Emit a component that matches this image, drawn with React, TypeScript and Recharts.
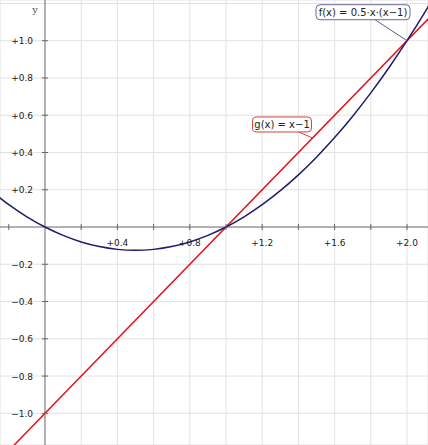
import { CartesianGrid, ComposedChart, Line, ReferenceDot, ReferenceLine, XAxis, YAxis } from "recharts"

// f(x)
const fX = [-0.3, -0.2, -0.1, 0, 0.1, 0.2, 0.3, 0.4, 0.5, 0.6, 0.7, 0.8, 0.9, 1.0, 1.1, 1.2, 1.3, 1.4, 1.5, 1.6, 1.7, 1.8, 1.9, 2.0, 2.1, 2.2]
const fY = [0.195, 0.12, 0.055, 0, -0.045, -0.08, -0.105, -0.12, -0.125, -0.12, -0.105, -0.08, -0.045, 0, 0.055, 0.12, 0.195, 0.28, 0.375, 0.48, 0.595, 0.72, 0.855, 1.0, 1.155, 1.32]

// g(x) straight line
const gX = [-0.3, 2.2]
const gY = [-1.3, 1.2]

const gridX = [-0.2, 0.2, 0.4, 0.6, 0.8, 1.0, 1.2, 1.4, 1.6, 1.8, 2.0]
const gridY = [-1.0, -0.8, -0.6, -0.4, -0.2, 0.2, 0.4, 0.6, 0.8, 1.0, 1.2]

const xLabelTicks = [0.4, 0.8, 1.2, 1.6, 2.0]
const xLabels = ["+0.4", "+0.8", "+1.2", "+1.6", "+2.0"]
const yLabelTicks = [1.0, 0.8, 0.6, 0.4, 0.2, -0.2, -0.4, -0.6, -0.8, -1.0]
const yLabels = ["+1.0", "+0.8", "+0.6", "+0.4", "+0.2", "\u22120.2", "\u22120.4", "\u22120.6", "\u22120.8", "\u22121.0"]

const fData = fX.map((x, i) => ({ x, y: fY[i] }))
const gData = gX.map((x, i) => ({ x, y: gY[i] }))

const FONT = "'DejaVu Sans', Verdana, sans-serif"
const AXIS = "#666"

function App() {
    return (
        <div style={{ position: "absolute", left: 0, top: 0 }}>
            <ComposedChart width={428} height={445} margin={{ top: 0, right: 0, bottom: 0, left: 0 }}>
                <XAxis type="number" dataKey="x" domain={[-0.2486, 2.116]} ticks={gridX} allowDataOverflow hide />
                <YAxis type="number" dataKey="y" domain={[-1.17, 1.2185]} ticks={gridY} allowDataOverflow hide />
                <CartesianGrid stroke="#e2e2e2" strokeWidth={1} />

                <ReferenceLine x={0} stroke={AXIS} strokeWidth={1} />
                <ReferenceLine y={0} stroke={AXIS} strokeWidth={1} />

                {gridX.map((v) => (
                    <ReferenceDot key={"tx" + v} x={v} y={0} shape={(p: any) => (
                        <line x1={p.cx} x2={p.cx} y1={p.cy - 3} y2={p.cy + 3} stroke={AXIS} strokeWidth={1} />
                    )} />
                ))}
                {yLabelTicks.map((v) => (
                    <ReferenceDot key={"ty" + v} x={0} y={v} shape={(p: any) => (
                        <line x1={p.cx - 3} x2={p.cx + 3} y1={p.cy} y2={p.cy} stroke={AXIS} strokeWidth={1} />
                    )} />
                ))}
                {xLabelTicks.map((v, i) => (
                    <ReferenceDot key={"lx" + v} x={v} y={0} shape={(p: any) => (
                        <text x={p.cx} y={p.cy + 19} textAnchor="middle" fontSize={9} fontFamily={FONT} fill="#222">{xLabels[i]}</text>
                    )} />
                ))}
                {yLabelTicks.map((v, i) => (
                    <ReferenceDot key={"ly" + v} x={0} y={v} shape={(p: any) => (
                        <text x={p.cx - 12} y={p.cy + 3.5} textAnchor="end" fontSize={9} fontFamily={FONT} fill="#222">{yLabels[i]}</text>
                    )} />
                ))}
                <ReferenceDot x={0} y={1.165} shape={(p: any) => (
                    <text x={p.cx - 10} y={p.cy + 3} textAnchor="middle" fontSize={10} fontFamily="'DejaVu Serif', serif" fill="#555">y</text>
                )} />

                <Line data={gData} dataKey="y" type="linear" stroke="#e3151b" strokeWidth={1.5} dot={false} activeDot={false} isAnimationActive={false} />
                <Line data={fData} dataKey="y" type="monotone" stroke="#1d1d6b" strokeWidth={1.5} dot={false} activeDot={false} isAnimationActive={false} />

                <ReferenceDot x={2} y={1} shape={(p: any) => (
                    <g>
                        <line x1={p.cx - 32} y1={p.cy - 21} x2={p.cx} y2={p.cy} stroke="#5a5a8a" strokeWidth={1} />
                        <rect x={p.cx - 91} y={p.cy - 36} width={94} height={15} rx={4} fill="#fff" stroke="#6a6a9a" strokeWidth={1} />
                        <text x={p.cx - 44} y={p.cy - 25} textAnchor="middle" fontSize={10} fontFamily={FONT} fill="#222">f(x) = 0.5·x·(x−1)</text>
                    </g>
                )} />
                <ReferenceDot x={1.478} y={0.478} shape={(p: any) => (
                    <g>
                        <line x1={p.cx - 14} y1={p.cy - 6} x2={p.cx} y2={p.cy} stroke="#d04040" strokeWidth={1} />
                        <rect x={p.cx - 60} y={p.cy - 21} width={59} height={15} rx={4} fill="#fff" stroke="#d04040" strokeWidth={1} />
                        <text x={p.cx - 30.5} y={p.cy - 10} textAnchor="middle" fontSize={10} fontFamily={FONT} fill="#222">g(x) = x−1</text>
                    </g>
                )} />
            </ComposedChart>
        </div>
    )
}

export default App
